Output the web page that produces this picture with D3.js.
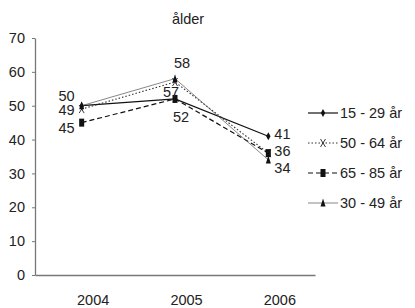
<!DOCTYPE html>
<html lang="sv">
<head>
<meta charset="utf-8">
<title>ålder</title>
<script src="https://cdn.jsdelivr.net/npm/d3@7"></script>
<style>
 body { margin: 0; background: #fff; }
 svg { font-family: "Liberation Sans", Arial, sans-serif; }
</style>
</head>
<body>
<div id="graph"></div>
<script>
 // data
 const years = ["2004", "2005", "2006"];
 const seriesNames = ["15 - 29 år", "50 - 64 år", "65 - 85 år", "30 - 49 år"];
 const v1529 = [50, 52, 41];
 const v5064 = [49, 57, 36];
 const v6585 = [45, 52, 36];
 const v3049 = [50, 58, 34];
 const yTicks = [0, 10, 20, 30, 40, 50, 60, 70];

 const values = [v1529, v5064, v6585, v3049];

 // styles per series
 const styles = [
   {stroke: "#111", width: 1.2, dash: null, marker: "diamond"},
   {stroke: "#333", width: 1.1, dash: "1.5,2", marker: "x"},
   {stroke: "#111", width: 1.2, dash: "5,3", marker: "square"},
   {stroke: "#555", width: 0.7, dash: null, marker: "triangle"}
 ];

 // which value labels appear, with placement offsets
 const labelPlaces = [
   {s: 3, i: 0, dx: -7, dy: -10, anchor: "end"},
   {s: 1, i: 0, dx: -7, dy: 1, anchor: "end"},
   {s: 2, i: 0, dx: -7, dy: 5, anchor: "end"},
   {s: 3, i: 1, dx: 7, dy: -16, anchor: "middle"},
   {s: 1, i: 1, dx: -4, dy: 10, anchor: "middle"},
   {s: 2, i: 1, dx: 6, dy: 18, anchor: "middle"},
   {s: 0, i: 2, dx: 6, dy: -2, anchor: "start"},
   {s: 2, i: 2, dx: 6, dy: -2, anchor: "start"},
   {s: 3, i: 2, dx: 6, dy: 8, anchor: "start"}
 ];

 const W = 415, H = 308;
 const svg = d3.select("#graph").append("svg")
   .attr("width", W).attr("height", H);

 const x = d3.scalePoint().domain(years).range([35, 315]).padding(0.5);
 const y = d3.scaleLinear().domain([0, 70]).range([275, 38]);

 // title
 svg.append("text")
   .attr("x", 188).attr("y", 24)
   .attr("text-anchor", "middle")
   .attr("font-size", 14.5)
   .attr("fill", "#222")
   .text("ålder");

 // y axis
 const ya = svg.append("g")
   .attr("transform", "translate(35,0)")
   .call(d3.axisLeft(y).tickValues(yTicks).tickSize(3).tickSizeOuter(0).tickPadding(7));
 ya.select(".domain").attr("stroke", "#777").attr("stroke-width", 1.3);
 ya.selectAll(".tick line").attr("stroke", "#777");
 ya.selectAll("text").attr("font-size", 14.5).attr("fill", "#222")
   .attr("font-family", "Liberation Sans, Arial, sans-serif");

 // x axis
 const xa = svg.append("g")
   .attr("transform", "translate(0,275)")
   .call(d3.axisBottom(x).tickSize(0).tickSizeOuter(0));
 xa.select(".domain").attr("stroke", "#777").attr("stroke-width", 1.3);
 xa.selectAll("text").attr("font-size", 14.5).attr("fill", "#222")
   .attr("y", 20).attr("dx", 11)
   .attr("font-family", "Liberation Sans, Arial, sans-serif");

 const line = d3.line().x((d, i) => x(years[i])).y(d => y(d));

 function marker(g, type, cx, cy) {
   if (type === "diamond") {
     g.append("path").attr("d", `M${cx},${cy-4}L${cx+2.2},${cy}L${cx},${cy+4}L${cx-2.2},${cy}Z`)
       .attr("fill", "#111");
   } else if (type === "square") {
     g.append("rect").attr("x", cx - 2.5).attr("y", cy - 4).attr("width", 5).attr("height", 8)
       .attr("fill", "#111");
   } else if (type === "triangle") {
     g.append("path").attr("d", `M${cx},${cy-4.5}L${cx+2.5},${cy+3.5}L${cx-2.5},${cy+3.5}Z`)
       .attr("fill", "#111");
   } else {
     g.append("path").attr("d", `M${cx-2.5},${cy-4}L${cx+2.5},${cy+4}M${cx+2.5},${cy-4}L${cx-2.5},${cy+4}`)
       .attr("stroke", "#222").attr("stroke-width", 0.9).attr("fill", "none");
   }
 }

 // series lines
 values.forEach((vals, s) => {
   const st = styles[s];
   const g = svg.append("g");
   g.append("path")
     .attr("d", line(vals))
     .attr("fill", "none")
     .attr("stroke", st.stroke)
     .attr("stroke-width", st.width)
     .attr("stroke-dasharray", st.dash);
   vals.forEach((v, i) => marker(g, st.marker, x(years[i]), y(v)));
 });

 // value labels
 svg.append("g").selectAll("text")
   .data(labelPlaces)
   .enter().append("text")
   .attr("x", d => x(years[d.i]) + d.dx)
   .attr("y", d => y(values[d.s][d.i]) + d.dy)
   .attr("dy", "0.35em")
   .attr("text-anchor", d => d.anchor)
   .attr("font-size", 14.5)
   .attr("fill", "#222")
   .text(d => values[d.s][d.i]);

 // legend
 const leg = svg.append("g");
 seriesNames.forEach((name, s) => {
   const st = styles[s];
   const ly = 113 + s * 30;
   leg.append("line")
     .attr("x1", 308).attr("x2", 338).attr("y1", ly).attr("y2", ly)
     .attr("stroke", st.stroke).attr("stroke-width", st.width)
     .attr("stroke-dasharray", st.dash);
   marker(leg, st.marker, 323, ly);
   leg.append("text")
     .attr("x", 340).attr("y", ly).attr("dy", "0.35em")
     .attr("font-size", 14.5).attr("fill", "#222")
     .text(name);
 });
</script>
</body>
</html>
